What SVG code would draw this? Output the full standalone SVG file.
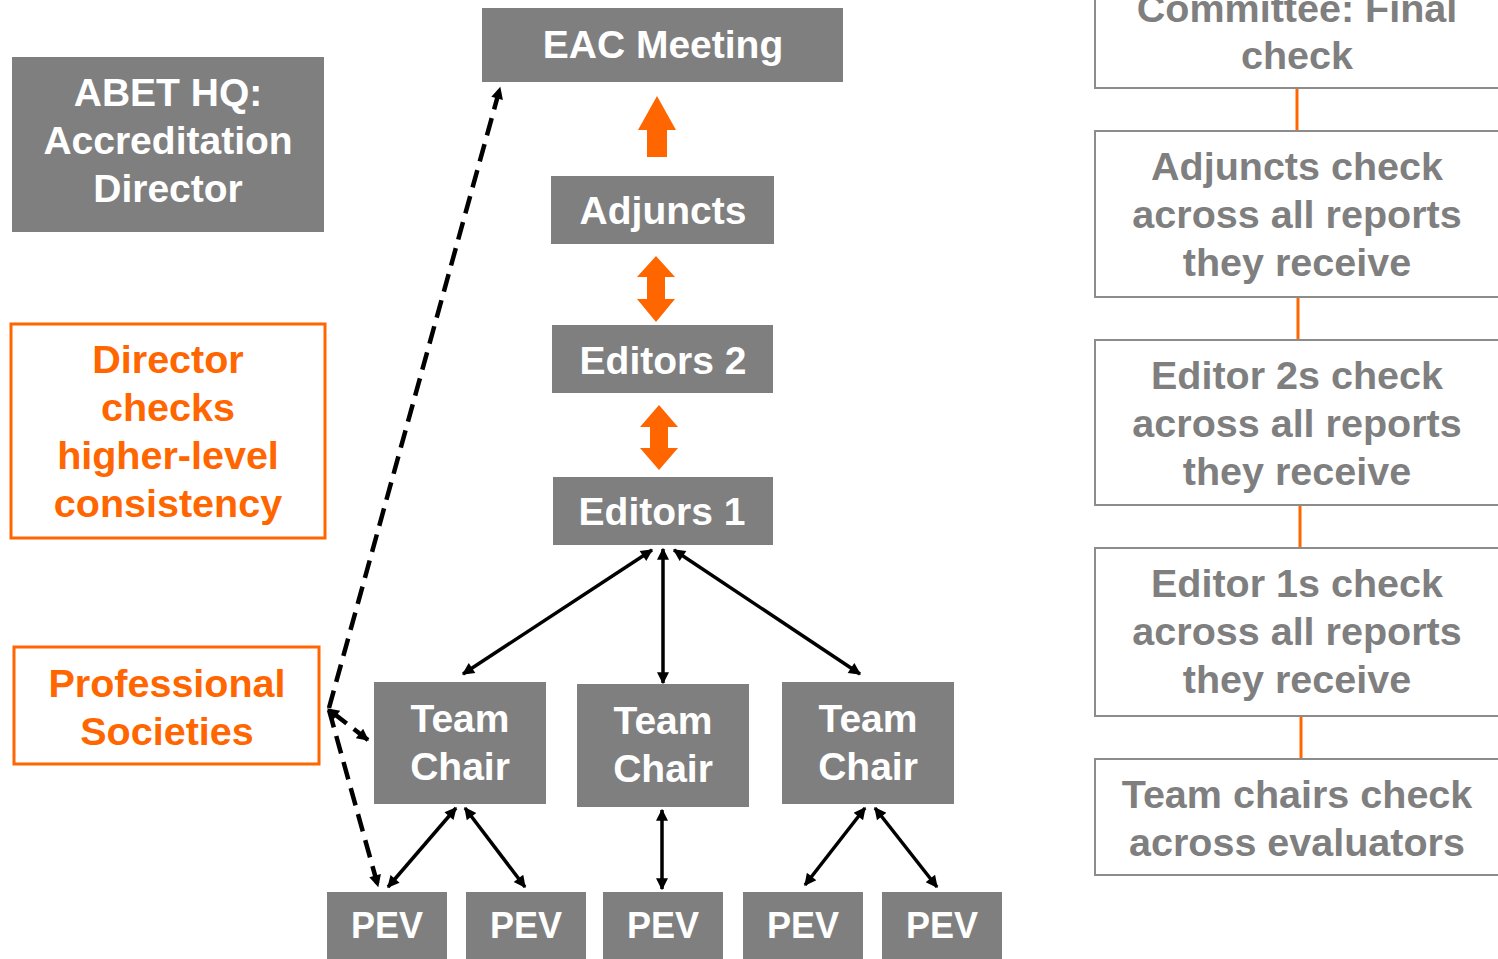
<svg xmlns="http://www.w3.org/2000/svg" width="1498" height="959" viewBox="0 0 1498 959">
<style>
.g{fill:#7f7f7f}
.wt{fill:#fff;font-family:"Liberation Sans",Arial,sans-serif;font-weight:bold;font-size:39px;text-anchor:middle}
.pt{fill:#fff;font-family:"Liberation Sans",Arial,sans-serif;font-weight:bold;font-size:36px;text-anchor:middle}
.ot{fill:#ff6600;font-family:"Liberation Sans",Arial,sans-serif;font-weight:bold;font-size:39.5px;text-anchor:middle}
.gt{fill:#7f7f7f;font-family:"Liberation Sans",Arial,sans-serif;font-weight:bold;font-size:39.5px;text-anchor:middle}
.ob{fill:#fff;stroke:#ff6600;stroke-width:3}
.rb{fill:#fff;stroke:#8c8c8c;stroke-width:2}
.ol{stroke:#ff6600;stroke-width:3}
.bl{stroke:#000;stroke-width:3.5;fill:none}
.dl{stroke:#000;stroke-width:4.5;fill:none;stroke-dasharray:18 9}
.oa{fill:#ff6600}
</style>
<defs>
<marker id="ah" viewBox="0 0 10 10" refX="9" refY="5" markerUnits="userSpaceOnUse" markerWidth="14" markerHeight="12" orient="auto-start-reverse">
<path d="M0,0 L10,5 L0,10 Z" fill="#000"/>
</marker>
</defs>
<g id="connectors">
<line class="bl" x1="652" y1="550" x2="463" y2="674" marker-start="url(#ah)" marker-end="url(#ah)"/>
<line class="bl" x1="663" y1="549" x2="663" y2="683" marker-start="url(#ah)" marker-end="url(#ah)"/>
<line class="bl" x1="674" y1="550" x2="860" y2="674" marker-start="url(#ah)" marker-end="url(#ah)"/>
<line class="bl" x1="456" y1="808" x2="388" y2="887" marker-start="url(#ah)" marker-end="url(#ah)"/>
<line class="bl" x1="465" y1="808" x2="525" y2="887" marker-start="url(#ah)" marker-end="url(#ah)"/>
<line class="bl" x1="662" y1="810" x2="662" y2="889" marker-start="url(#ah)" marker-end="url(#ah)"/>
<line class="bl" x1="865" y1="808" x2="805" y2="885" marker-start="url(#ah)" marker-end="url(#ah)"/>
<line class="bl" x1="875" y1="808" x2="937" y2="887" marker-start="url(#ah)" marker-end="url(#ah)"/>
<line class="dl" x1="329" y1="708" x2="500" y2="88" marker-end="url(#ah)"/>
<line class="dl" x1="329" y1="710" x2="378" y2="886" marker-end="url(#ah)"/>
<line class="dl" x1="368" y1="740" x2="328" y2="709" marker-start="url(#ah)" marker-end="url(#ah)"/>
<line class="ol" x1="1297" y1="88" x2="1297" y2="131"/>
<line class="ol" x1="1298" y1="297" x2="1298" y2="340"/>
<line class="ol" x1="1300" y1="505" x2="1300" y2="548"/>
<line class="ol" x1="1301" y1="716" x2="1301" y2="759"/>
<polygon class="oa" points="657,96 676,130 667,130 667,157 647,157 647,130 638,130"/>
<polygon class="oa" points="656,256 675,277 665,277 665,299 675,299 656,322 637,299 647,299 647,277 637,277"/>
<polygon class="oa" points="659,405 678,427 668,427 668,448 678,448 659,470 640,448 650,448 650,427 640,427"/>
</g>
<g id="eac"><rect class="g" x="482" y="8" width="361" height="74"/><text class="wt" x="663" y="58">EAC Meeting</text></g>
<g id="adjuncts"><rect class="g" x="551" y="176" width="223" height="68"/><text class="wt" x="663" y="224">Adjuncts</text></g>
<g id="editors2"><rect class="g" x="552" y="325" width="221" height="68"/><text class="wt" x="663" y="374">Editors 2</text></g>
<g id="editors1"><rect class="g" x="553" y="477" width="220" height="68"/><text class="wt" x="662" y="525">Editors 1</text></g>
<g id="tc1"><rect class="g" x="374" y="682" width="172" height="122"/><text class="wt" x="460" y="732">Team</text><text class="wt" x="460" y="780">Chair</text></g>
<g id="tc2"><rect class="g" x="577" y="684" width="172" height="123"/><text class="wt" x="663" y="734">Team</text><text class="wt" x="663" y="782">Chair</text></g>
<g id="tc3"><rect class="g" x="782" y="682" width="172" height="122"/><text class="wt" x="868" y="732">Team</text><text class="wt" x="868" y="780">Chair</text></g>
<g id="pev1"><rect class="g" x="327" y="892" width="120" height="70"/><text class="pt" x="387" y="938">PEV</text></g>
<g id="pev2"><rect class="g" x="466" y="892" width="120" height="70"/><text class="pt" x="526" y="938">PEV</text></g>
<g id="pev3"><rect class="g" x="603" y="892" width="120" height="70"/><text class="pt" x="663" y="938">PEV</text></g>
<g id="pev4"><rect class="g" x="743" y="892" width="120" height="70"/><text class="pt" x="803" y="938">PEV</text></g>
<g id="pev5"><rect class="g" x="882" y="892" width="120" height="70"/><text class="pt" x="942" y="938">PEV</text></g>
<g id="abet"><rect class="g" x="12" y="57" width="312" height="175"/><text class="wt" x="168" y="106">ABET HQ:</text><text class="wt" x="168" y="154">Accreditation</text><text class="wt" x="168" y="202">Director</text></g>
<g id="director"><rect class="ob" x="11" y="324" width="314" height="214"/><text class="ot" x="168" y="373">Director</text><text class="ot" x="168" y="421">checks</text><text class="ot" x="168" y="469">higher-level</text><text class="ot" x="168" y="517">consistency</text></g>
<g id="profsoc"><rect class="ob" x="14" y="647" width="305" height="117"/><text class="ot" x="167" y="697">Professional</text><text class="ot" x="167" y="745">Societies</text></g>
<g id="r1"><rect class="rb" x="1095" y="-20" width="420" height="108"/><text class="gt" x="1297" y="22">Committee: Final</text><text class="gt" x="1297" y="69">check</text></g>
<g id="r2"><rect class="rb" x="1095" y="131" width="420" height="166"/><text class="gt" x="1297" y="180">Adjuncts check</text><text class="gt" x="1297" y="228">across all reports</text><text class="gt" x="1297" y="276">they receive</text></g>
<g id="r3"><rect class="rb" x="1095" y="340" width="420" height="165"/><text class="gt" x="1297" y="389">Editor 2s check</text><text class="gt" x="1297" y="437">across all reports</text><text class="gt" x="1297" y="485">they receive</text></g>
<g id="r4"><rect class="rb" x="1095" y="548" width="420" height="168"/><text class="gt" x="1297" y="597">Editor 1s check</text><text class="gt" x="1297" y="645">across all reports</text><text class="gt" x="1297" y="693">they receive</text></g>
<g id="r5"><rect class="rb" x="1095" y="759" width="420" height="116"/><text class="gt" x="1297" y="808">Team chairs check</text><text class="gt" x="1297" y="856">across evaluators</text></g>
</svg>
